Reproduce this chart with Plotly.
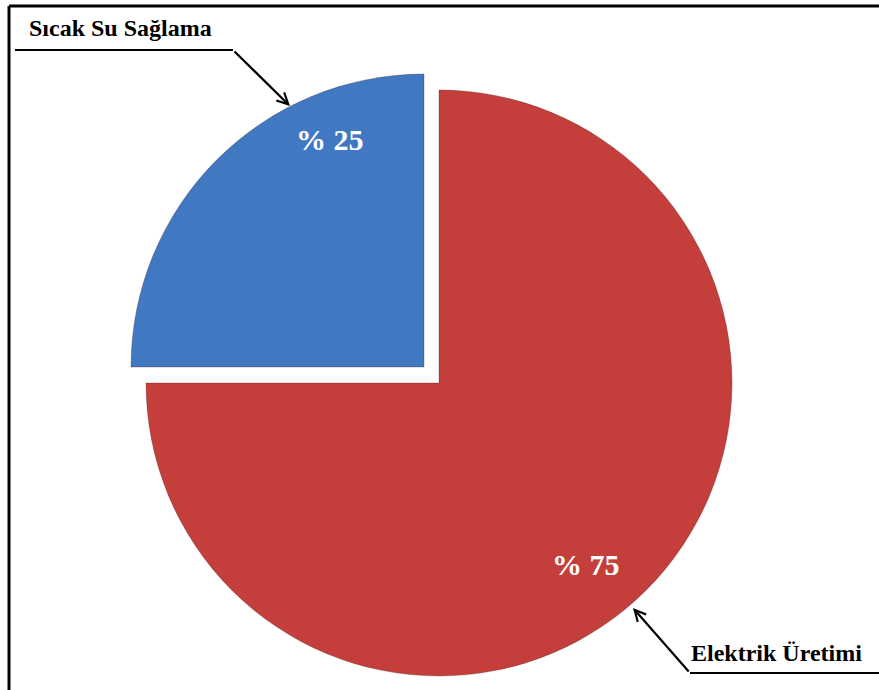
import plotly.graph_objects as go

# Kullanım alanlarına göre dağılım (%)
categories = ["Elektrik Üretimi", "Sıcak Su Sağlama"]
shares = [75, 25]
slice_colors = ["#c43f3c", "#4178c2"]

W, H = 879, 690
SERIF = "Times New Roman, Liberation Serif, DejaVu Serif, serif"


def px(x):
    return x / W


def py(y):
    return 1 - y / H


def box(cx, cy, r):
    # piksel merkez/yarıçaptan kağıt alanı (domain)
    return dict(x=[px(cx - r), px(cx + r)], y=[py(cy + r), py(cy - r)])


fig = go.Figure()
# Her dilim ayrı bir pasta katmanında; öne çekilen dilim kaydırılmış alanda çizilir
centers = [(439, 383), (424, 367)]
for i, (cx, cy) in enumerate(centers):
    colors = ["rgba(0,0,0,0)"] * len(shares)
    colors[i] = slice_colors[i]
    lines = ["rgba(0,0,0,0)"] * len(shares)
    lines[i] = "rgba(60,20,20,0.35)"
    fig.add_trace(
        go.Pie(
            labels=categories,
            values=shares,
            sort=False,
            direction="clockwise",
            rotation=0,
            textinfo="none",
            hoverinfo="label+percent",
            marker=dict(colors=colors, line=dict(color=lines, width=0.8)),
            domain=box(cx, cy, 293),
            showlegend=False,
        )
    )

label_font = dict(family=SERIF, size=24, color="black", weight="bold")
value_font = dict(family=SERIF, size=30, color="white", weight="bold")


def arrow(tip, tail):
    # ok ucu tip noktasında, kuyruk tail noktasında (piksel)
    return dict(x=px(tip[0]), y=py(tip[1]), ax=tail[0] - tip[0], ay=tail[1] - tip[1],
                axref="pixel", ayref="pixel", xref="paper", yref="paper",
                showarrow=True, arrowhead=5, arrowsize=1, arrowwidth=2.2,
                arrowcolor="black", text="")


annotations = [
    # değer etiketleri
    dict(x=px(330), y=py(139), text=f"% {shares[1]}", showarrow=False,
         xanchor="center", yanchor="middle", font=value_font),
    dict(x=px(586), y=py(564), text=f"% {shares[0]}", showarrow=False,
         xanchor="center", yanchor="middle", font=value_font),
    # kategori etiketleri
    dict(x=px(27), y=py(28), text=categories[1], showarrow=False,
         xanchor="left", yanchor="middle", font=label_font),
    dict(x=px(689), y=py(653), text=categories[0], showarrow=False,
         xanchor="left", yanchor="middle", font=label_font),
    # oklar
    arrow((290, 106), (233, 50)),
    arrow((633, 608), (690, 673)),
]
for a in annotations:
    a.setdefault("xref", "paper")
    a.setdefault("yref", "paper")

shapes = [
    # çerçeve
    dict(type="line", xref="paper", yref="paper", x0=px(9), y0=py(6), x1=px(9), y1=py(700),
         line=dict(color="black", width=3)),
    dict(type="line", xref="paper", yref="paper", x0=px(9), y0=py(6), x1=px(890), y1=py(6),
         line=dict(color="black", width=3)),
    # etiket çizgileri
    dict(type="line", xref="paper", yref="paper", x0=px(15), y0=py(50), x1=px(233), y1=py(50),
         line=dict(color="black", width=2.2)),
    dict(type="line", xref="paper", yref="paper", x0=px(690), y0=py(673), x1=px(879), y1=py(673),
         line=dict(color="black", width=2.2)),
]

fig.update_layout(
    width=W,
    height=H,
    margin=dict(l=0, r=0, t=0, b=0),
    paper_bgcolor="white",
    plot_bgcolor="white",
    annotations=annotations,
    shapes=shapes,
)

fig.write_html("out.html")
